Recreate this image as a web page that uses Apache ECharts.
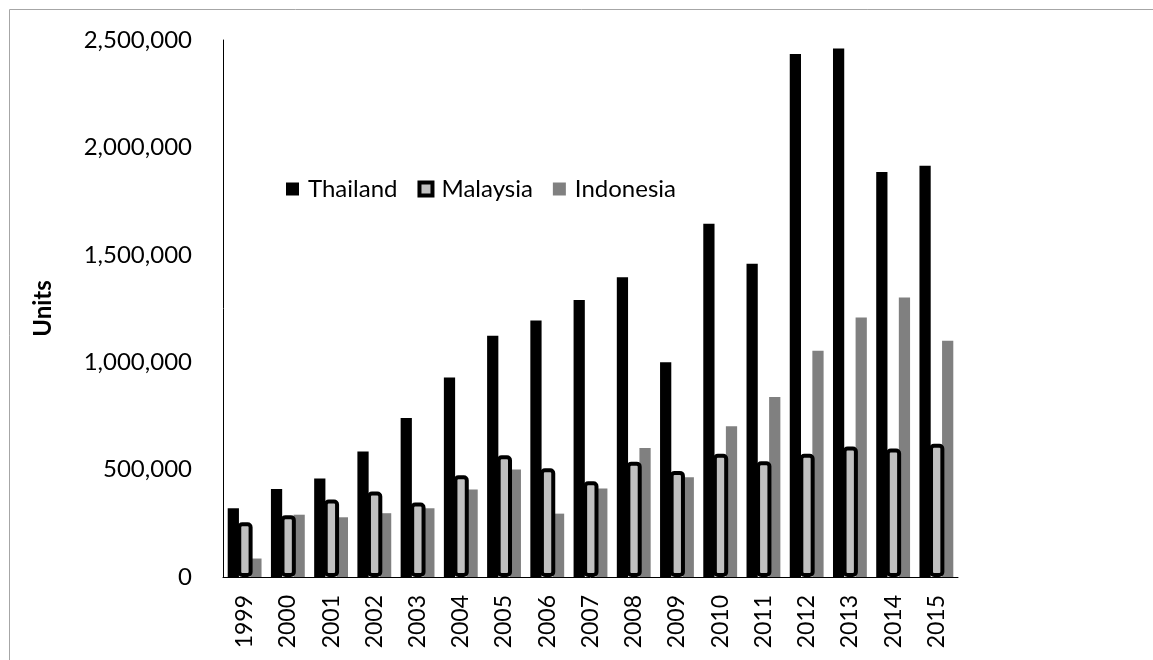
<!DOCTYPE html>
<html>
<head>
<meta charset="utf-8">
<script src="https://cdn.jsdelivr.net/npm/echarts@6/dist/echarts.min.js"></script>
<style>
html,body{margin:0;padding:0;background:#fff;}
#chart{width:1153px;height:660px;}
</style>
</head>
<body>
<div id="chart"></div>
<script>
var years = ['1999','2000','2001','2002','2003','2004','2005','2006','2007','2008','2009','2010','2011','2012','2013','2014','2015'];
var thailand = [320000, 410000, 458000, 584000, 740000, 929000, 1123000, 1194000, 1289000, 1396000, 1000000, 1645000, 1458000, 2435000, 2460000, 1885000, 1915000];
var malaysia = [255000, 288000, 361000, 398000, 347000, 474000, 567000, 506000, 446000, 537000, 494000, 574000, 539000, 574000, 607000, 598000, 620000];
var indonesia = [86000, 290000, 278000, 297000, 320000, 407000, 500000, 295000, 412000, 600000, 464000, 702000, 838000, 1053000, 1208000, 1301000, 1100000];
var yTicks = { min: 0, max: 2500000, interval: 500000 };

var FONT = 'Lato, "Open Sans", sans-serif';
function fmt(v) { return String(v).replace(/\B(?=(\d{3})+(?!\d))/g, ','); }

var chart = echarts.init(document.getElementById('chart'), null, { renderer: 'canvas' });
chart.setOption({
  animation: false,
  backgroundColor: '#fff',
  graphic: [{
    type: 'rect',
    shape: { x: 9.5, y: 9.5, width: 1300, height: 800 },
    style: { fill: 'none', stroke: '#a6a6a6', lineWidth: 1 },
    silent: true, z: -10
  }],
  grid: { left: 223, right: 195, top: 40, bottom: 83, containLabel: false },
  legend: {
    left: 281, top: 172,
    icon: 'rect',
    itemWidth: 13, itemHeight: 13, itemGap: 20,
    textStyle: { fontFamily: FONT, fontSize: 24, color: '#000', padding: [0, 0, 0, 4] },
    data: [
      { name: 'Thailand' },
      { name: 'Malaysia', itemStyle: { borderWidth: 4, borderColor: '#000' } },
      { name: 'Indonesia' }
    ]
  },
  xAxis: {
    type: 'category',
    data: years,
    boundaryGap: true,
    axisLine: { show: true, lineStyle: { color: '#000', width: 1 } },
    axisTick: { show: false },
    axisLabel: { rotate: 90, margin: 18, fontFamily: FONT, fontSize: 23, color: '#000', interval: 0 }
  },
  yAxis: {
    type: 'value',
    min: yTicks.min, max: yTicks.max, interval: yTicks.interval,
    name: 'Units',
    nameLocation: 'middle',
    nameGap: 168,
    nameRotate: 90,
    nameTextStyle: { fontFamily: FONT, fontSize: 24, fontWeight: 'bold', color: '#000' },
    axisLine: { show: true, lineStyle: { color: '#000', width: 1 } },
    axisTick: { show: false },
    splitLine: { show: false },
    axisLabel: { margin: 31, fontFamily: FONT, fontSize: 24, color: '#000', formatter: fmt }
  },
  series: [
    { name: 'Thailand', type: 'bar', data: thailand, barGap: '-15%', barWidth: '26%',
      itemStyle: { color: '#000' } },
    { name: 'Malaysia', type: 'bar', data: malaysia, z: 4, barGap: '-15%', barWidth: '35.5%',
      itemStyle: { color: '#c0c0c0', borderColor: '#000', borderWidth: 4, borderRadius: 3 } },
    { name: 'Indonesia', type: 'bar', data: indonesia, barGap: '-15%', barWidth: '26%',
      itemStyle: { color: '#808080' } }
  ]
});
</script>
</body>
</html>
